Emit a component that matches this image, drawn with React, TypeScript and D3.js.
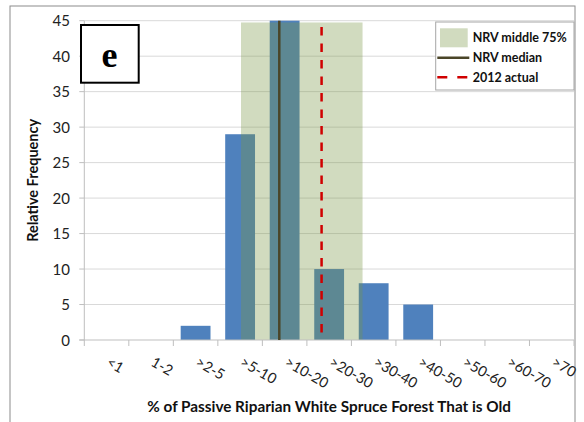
import React from "react";
import * as d3 from "d3";

const categories = ["<1", "1-2", ">2-5", ">5-10", ">10-20", ">20-30", ">30-40", ">40-50", ">50-60", ">60-70", ">70"];
const frequencies = [0, 0, 2, 29, 45, 10, 8, 5, 0, 0, 0];
const yTicks = [0, 5, 10, 15, 20, 25, 30, 35, 40, 45];
// NRV values on a continuous category-index axis (0 .. 11)
const nrvBand = [3.52, 6.25];
const nrvBandTop = 44.75;
const nrvMedian = 4.38;
const actual2012 = 5.33;
const actualTop = 44.1;
const legendItems = ["NRV middle 75%", "NRV median", "2012 actual"];

const W = 584, H = 422;
const left = 84.3, right = 574, top = 20.7, bottom = 340;
const font = "Lato, 'Open Sans', sans-serif";

export default function App() {
  const x = d3.scaleBand<string>().domain(categories).range([left, right]).paddingInner(0.33).paddingOuter(0.165);
  const xc = d3.scaleLinear().domain([0, categories.length]).range([left, right]);
  const y = d3.scaleLinear().domain([0, 45]).range([bottom, top]);
  const boundaries = d3.range(categories.length + 1).map((i) => xc(i));

  return (
    <svg width={W} height={H} style={{ position: "absolute", left: 0, top: 0, background: "#fff" }}>
      <rect x={10} y={6} width={565} height={430} fill="#fff" stroke="#8c8c8c" strokeWidth={1} />
      {yTicks.filter((t) => t > 0).map((t) => (
        <line key={t} x1={left} x2={right} y1={y(t)} y2={y(t)} stroke="#d9d9d9" strokeWidth={1} />
      ))}
      {categories.map((c, i) =>
        frequencies[i] > 0 ? (
          <rect key={c} x={x(c)} y={y(frequencies[i])} width={x.bandwidth()} height={bottom - y(frequencies[i])} fill="#4f81bd" />
        ) : null
      )}
      <rect x={xc(nrvBand[0])} y={y(nrvBandTop)} width={xc(nrvBand[1]) - xc(nrvBand[0])} height={bottom - y(nrvBandTop)} fill="#779543" fillOpacity={0.34} />
      <line x1={left} x2={left} y1={top} y2={bottom} stroke="#bfbfbf" />
      {yTicks.map((t) => (
        <line key={"yt" + t} x1={left - 5} x2={left} y1={y(t)} y2={y(t)} stroke="#bfbfbf" />
      ))}
      <line x1={left - 5} x2={right} y1={bottom} y2={bottom} stroke="#bfbfbf" />
      {boundaries.map((b, i) => (
        <line key={"xt" + i} x1={b} x2={b} y1={bottom} y2={bottom + 6} stroke="#bfbfbf" />
      ))}
      <line x1={xc(nrvMedian)} x2={xc(nrvMedian)} y1={y(45)} y2={bottom} stroke="#4a4528" strokeWidth={2.5} />
      <line x1={xc(actual2012)} x2={xc(actual2012)} y1={y(actualTop)} y2={bottom} stroke="#d00000" strokeWidth={2.5} strokeDasharray="8.5,8" />
      {yTicks.map((t) => (
        <text key={"yl" + t} x={70} y={y(t) + 5.5} textAnchor="end" fontFamily={font} fontSize={15} fill="#222">{t}</text>
      ))}
      {categories.map((c) => {
        const cx = (x(c) as number) + x.bandwidth() / 2 - 1;
        return (
          <text key={"xl" + c} transform={`translate(${cx},${365}) rotate(30)`} textAnchor="start" fontFamily={font} fontSize={14.5} fill="#222">{c}</text>
        );
      })}
      <text transform={`translate(38,${(top + bottom) / 2}) rotate(-90)`} textAnchor="middle" fontFamily={font} fontWeight="bold" fontSize={14.5} fill="#111">Relative Frequency</text>
      <text x={(left + right) / 2} y={412} textAnchor="middle" fontFamily={font} fontWeight="bold" fontSize={15.3} fill="#111">% of Passive Riparian White Spruce Forest That is Old</text>
      <rect x={81} y={25} width={57.7} height={57.7} fill="#fff" stroke="#000" strokeWidth={2} />
      <text x={109.5} y={67} textAnchor="middle" fontFamily="'Liberation Serif', 'DejaVu Serif', serif" fontWeight="bold" fontSize={36} fill="#000">e</text>
      <rect x={435.7} y={22} width={138.3} height={68} fill="#fff" stroke="#a6a6a6" />
      <rect x={440} y={28.3} width={27.7} height={19} fill="#779543" fillOpacity={0.34} />
      <line x1={437.3} x2={469.3} y1={57.7} y2={57.7} stroke="#4a4528" strokeWidth={2.5} />
      <line x1={437.3} x2={469.3} y1={77.3} y2={77.3} stroke="#d00000" strokeWidth={2.5} strokeDasharray="10,10" />
      {legendItems.map((l, i) => (
        <text key={l} x={472.7} y={42.3 + i * 19.7} fontFamily={font} fontWeight="bold" fontSize={12.5} fill="#111">{l}</text>
      ))}
    </svg>
  );
}
